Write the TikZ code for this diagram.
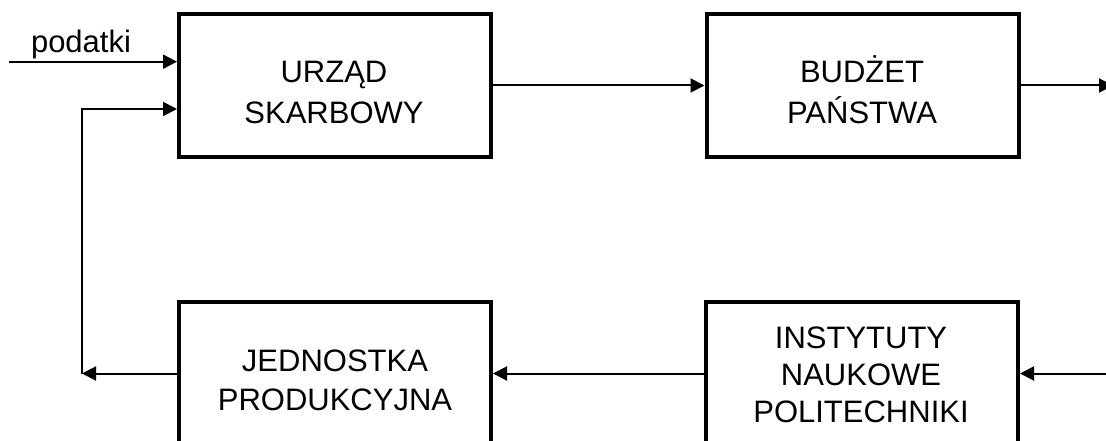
\documentclass[tikz,border=0pt]{standalone}
\usepackage{fontspec}
\setmainfont{Liberation Sans}
\usetikzlibrary{arrows.meta,calc}
\begin{document}
\begin{tikzpicture}[x=1pt,y=-1pt,
  blok/.style={draw, line width=4pt, minimum width=312pt, minimum height=143pt, inner sep=0pt},
  opis/.style={align=center, font=\fontsize{31}{#1}\selectfont, inner sep=0pt},
  strz/.style={line width=2pt, -{Triangle[length=14pt,width=14pt]}}]

% page frame; the bottom boxes run past the lower edge
\path[use as bounding box, clip] (0,0) rectangle (1106,441);

% boxes
\node[blok] (us) at (335, 85.5) {};
\node[blok] (bp) at (862.5, 85.5) {};
\node[blok] (jp) at (335, 373.5) {};
\node[blok] (in) at (862, 373.5) {};

% box texts
\node[opis=41.7] (tus) at (334, 94.8) {\strut URZĄD\\\strut SKARBOWY};
\node[opis=41.7] (tbp) at (862, 94.8) {\strut BUDŻET\\\strut PAŃSTWA};
\node[opis=38.3] (tjp) at (335, 383.2) {\strut JEDNOSTKA\\\strut PRODUKCYJNA};
\node[opis=37.2] (tin) at (861, 378.1) {\strut INSTYTUTY\\\strut NAUKOWE\\\strut POLITECHNIKI};

% taxes coming in
\coordinate (wej) at (9, 61.7);
\node[opis=37, anchor=base] (pod) at (81, 52.3) {podatki};
\draw[strz] (wej) -- (wej -| us.west);

% top row
\draw[strz] (us.east) -- (bp.west);
\coordinate (wyj) at (1113, 0);
\draw[strz] (bp.east) -- (bp.east -| wyj);

% bottom row
\coordinate (wejP) at (1110, 0);
\draw[strz] (in.east -| wejP) -- (in.east);
\draw[strz] (in.west) -- (jp.east);

% feedback loop
\coordinate (rog) at (82, 0);
\coordinate (fbg) at (82, 109);
\draw[strz] (jp.west) -- (jp.west -| rog);
\draw[strz] (jp.west -| rog) -- (fbg) -- (fbg -| us.west);
\end{tikzpicture}
\end{document}
